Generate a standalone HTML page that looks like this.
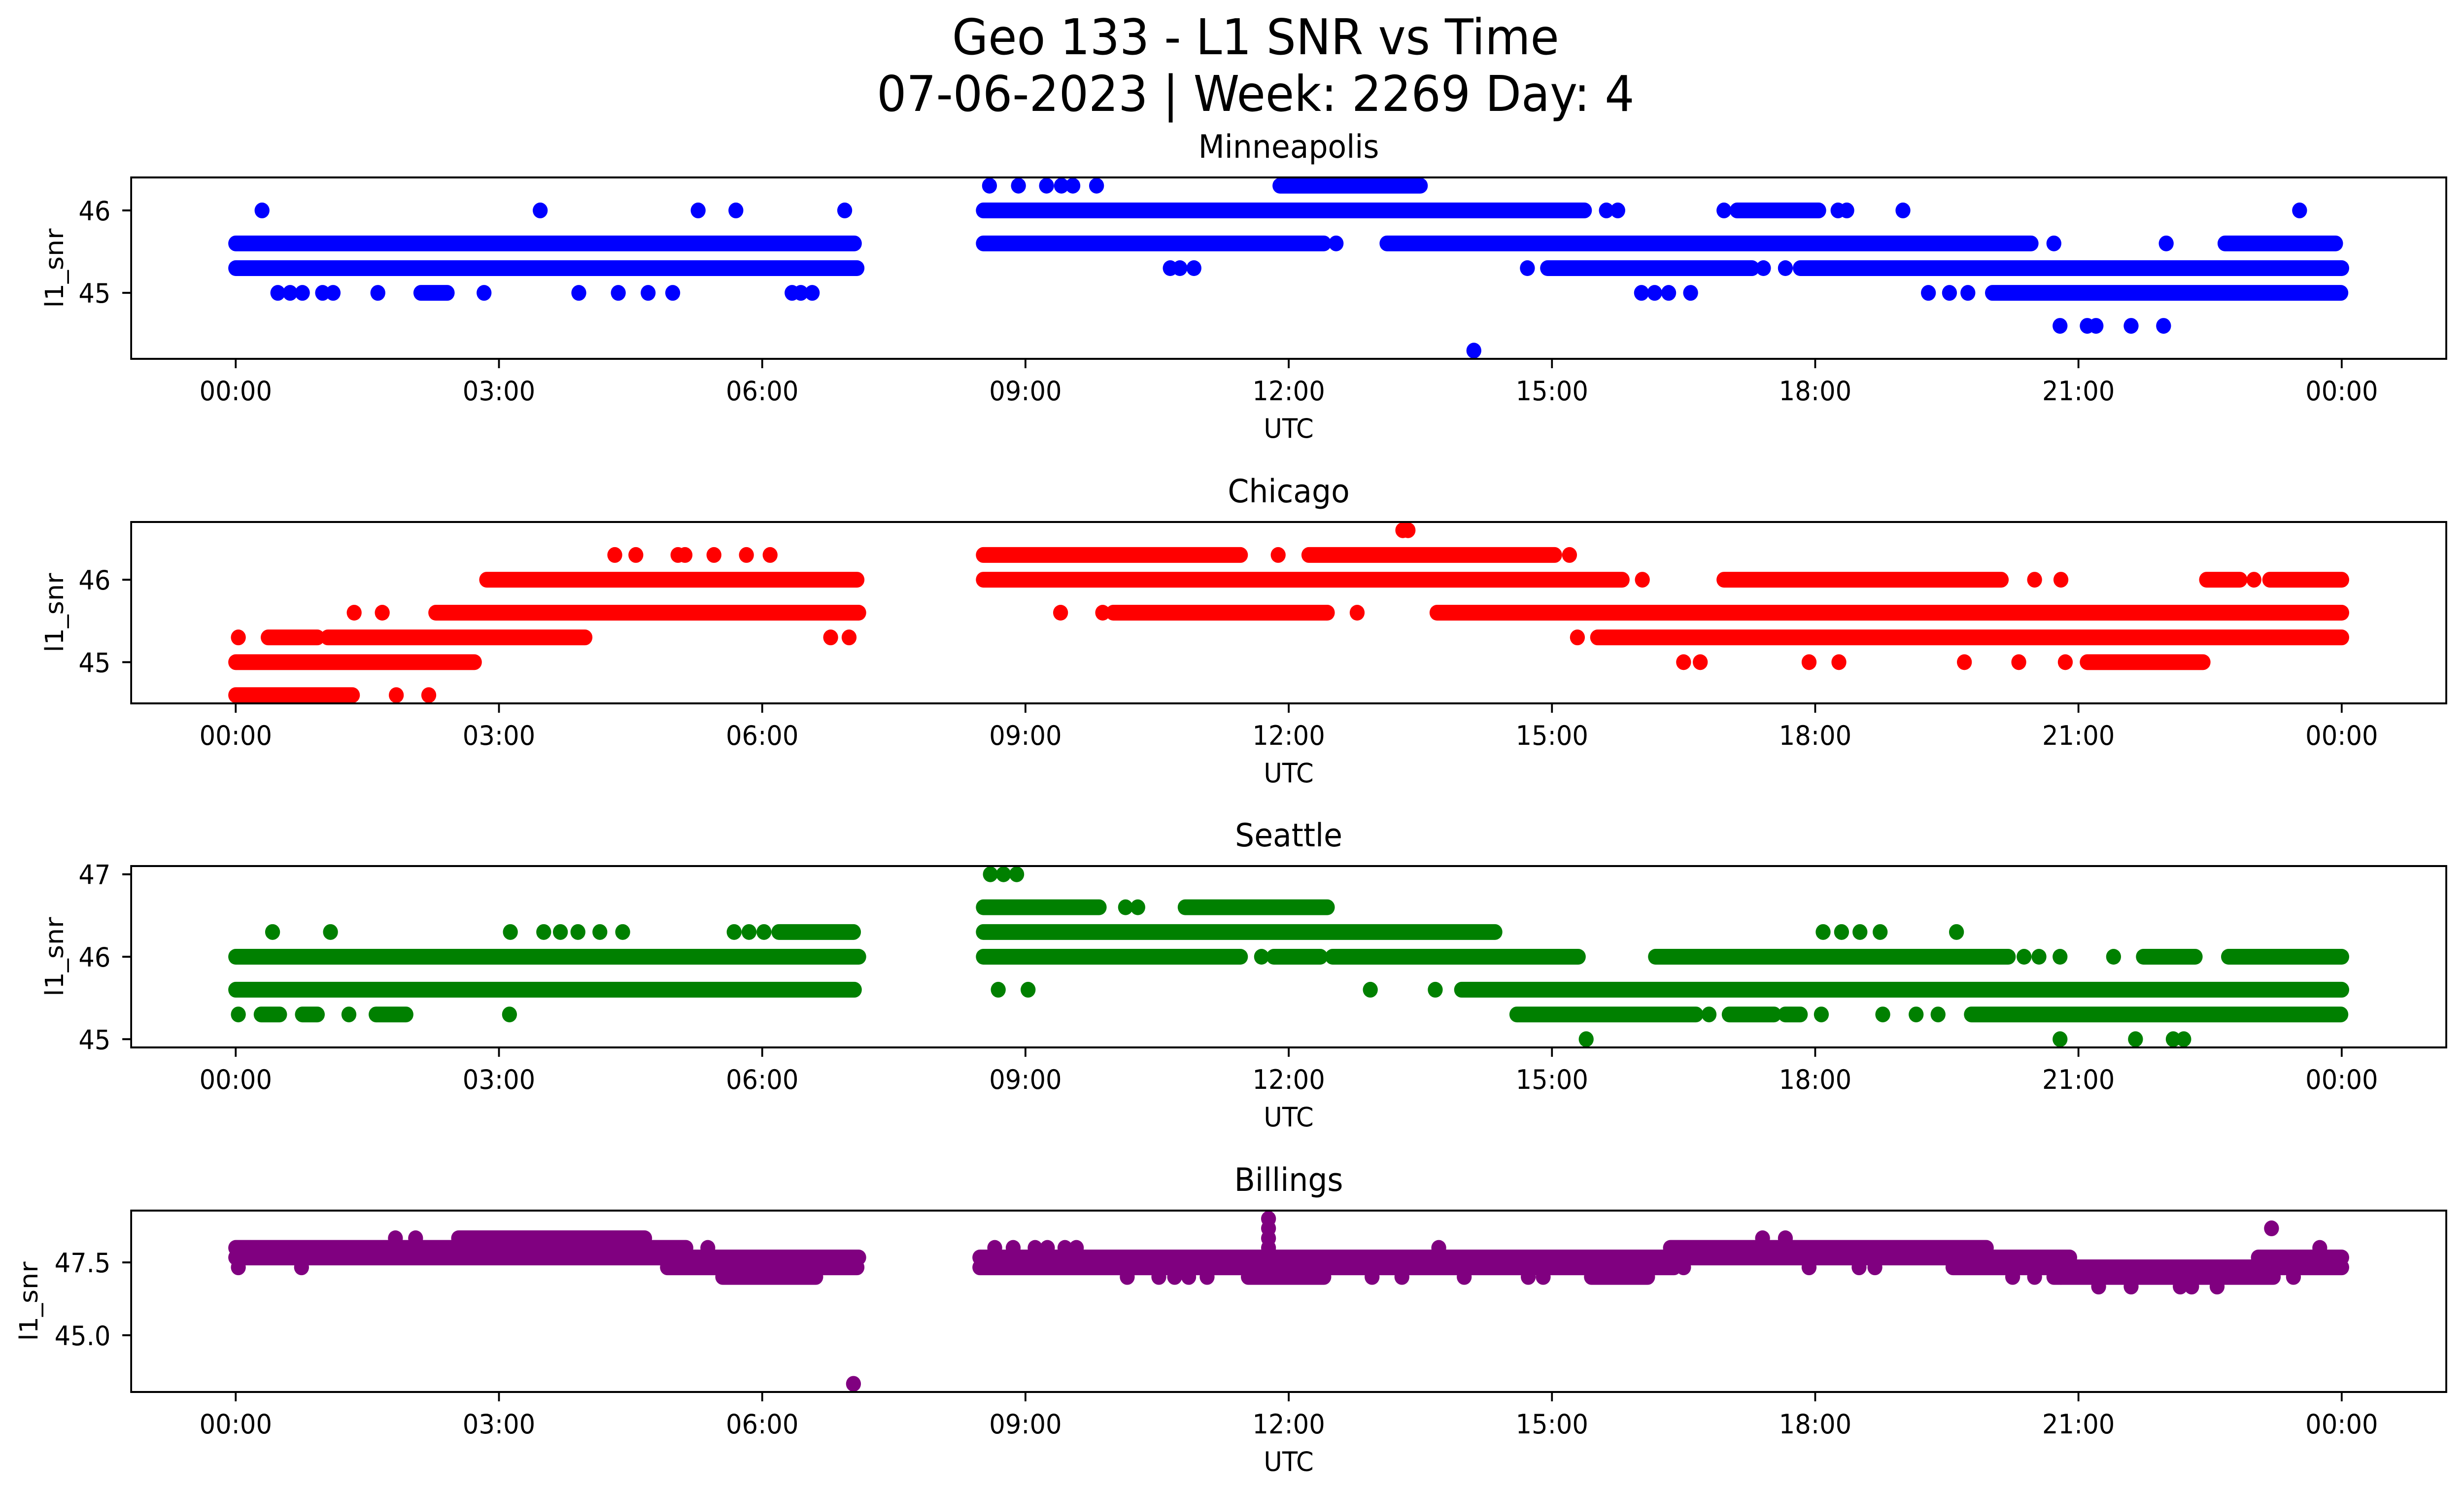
<!DOCTYPE html>
<html><head><meta charset="utf-8"><title>Geo 133 - L1 SNR vs Time</title>
<style>html,body{margin:0;padding:0;background:#fff;overflow:hidden;width:5279px;height:3033px}svg{display:block;width:100vw;height:100vh}text{font-family:"DejaVu Sans","Liberation Sans",sans-serif;fill:#000}</style>
</head><body>
<svg id="fig" xmlns="http://www.w3.org/2000/svg" viewBox="0 0 5279 3033" preserveAspectRatio="none">
<rect width="5279" height="3033" fill="#fff"/>
<text x="2690" y="110" font-size="100" text-anchor="middle">Geo 133 - L1 SNR vs Time</text>
<text x="2690" y="225" font-size="100" text-anchor="middle">07-06-2023 | Week: 2269 Day: 4</text>
</svg>
<script>
// ---- data (hours UTC, SNR) ----
const xTickHours=[0,3,6,9,12,15,18,21,24];
const xTickLabels=["00:00","03:00","06:00","09:00","12:00","15:00","18:00","21:00","00:00"];
const panelNames=["Minneapolis","Chicago","Seattle","Billings"];
// Minneapolis
const minRunStart=[11.9,8.52,17.11,0,8.52,13.12,22.67,0,14.95,17.83,20.02,2.11];
const minRunEnd=[13.5,15.37,18.04,7.05,12.4,20.46,23.93,7.08,17.28,24.0,23.99,2.41];
const minRunVal=[46.3,46.0,46.0,45.6,45.6,45.6,45.6,45.3,45.3,45.3,45.0,45.0];
const minPtTime=[8.59,8.92,9.24,9.41,9.54,9.81,0.30,3.47,5.27,5.70,6.94,15.62,15.75,16.96,18.26,18.36,19.0,23.52,12.54,20.72,22.0,10.65,10.76,10.92,14.72,17.41,17.66,0.48,0.62,0.76,0.99,1.11,1.62,2.83,3.91,4.36,4.70,4.98,6.34,6.44,6.57,16.02,16.17,16.33,16.58,19.29,19.53,19.74,20.79,21.1,21.2,21.6,21.97,14.11];
const minPtVal=[46.3,46.3,46.3,46.3,46.3,46.3,46,46,46,46,46,46,46,46,46,46,46,46,45.6,45.6,45.6,45.3,45.3,45.3,45.3,45.3,45.3,45,45,45,45,45,45,45,45,45,45,45,45,45,45,45,45,45,45,45,45,45,44.6,44.6,44.6,44.6,44.6,44.3];
// Chicago
const chiRunStart=[8.52,12.23,2.86,8.52,16.96,22.46,23.18,2.28,10.0,13.69,0.37,1.05,15.52,0,21.1,0];
const chiRunEnd=[11.45,15.03,7.08,15.8,20.12,22.84,24.0,7.1,12.44,24.0,0.93,3.98,24.0,2.72,22.42,1.33];
const chiRunVal=[46.3,46.3,46.0,46.0,46.0,46.0,46.0,45.6,45.6,45.6,45.3,45.3,45.3,45.0,45.0,44.6];
const chiPtTime=[13.3,13.36,4.32,4.56,5.04,5.12,5.45,5.82,6.09,11.88,15.2,16.03,20.5,20.8,23.0,1.35,1.67,9.4,9.88,12.78,0.03,6.78,6.99,15.29,16.5,16.69,17.93,18.27,19.7,20.32,20.85,1.83,2.2];
const chiPtVal=[46.6,46.6,46.3,46.3,46.3,46.3,46.3,46.3,46.3,46.3,46.3,46,46,46,46,45.6,45.6,45.6,45.6,45.6,45.3,45.3,45.3,45.3,45,45,45,45,45,45,45,44.6,44.6];
// Seattle
const seaRunStart=[8.52,10.82,6.19,8.52,0,8.52,11.83,12.5,16.18,21.74,22.71,0,13.97,14.6,17.02,17.66,19.78,1.6,0.29,0.76];
const seaRunEnd=[9.84,12.44,7.04,14.35,7.1,11.45,12.36,15.3,20.2,22.33,24.0,7.05,24.0,16.64,17.53,17.83,23.99,1.94,0.5,0.93];
const seaRunVal=[46.6,46.6,46.3,46.3,46.0,46.0,46.0,46.0,46.0,46.0,46.0,45.6,45.6,45.3,45.3,45.3,45.3,45.3,45.3,45.3];
const seaPtTime=[8.6,8.75,8.9,10.14,10.28,0.42,1.08,3.13,3.51,3.7,3.9,4.15,4.41,5.68,5.85,6.02,18.09,18.3,18.51,18.74,19.61,11.69,20.38,20.55,20.79,21.4,8.69,9.03,12.93,13.67,0.03,1.29,3.12,16.79,18.07,18.77,19.15,19.4,15.39,20.79,21.65,22.08,22.2];
const seaPtVal=[47,47,47,46.6,46.6,46.3,46.3,46.3,46.3,46.3,46.3,46.3,46.3,46.3,46.3,46.3,46.3,46.3,46.3,46.3,46.3,46,46,46,46,46,45.6,45.6,45.6,45.6,45.3,45.3,45.3,45.3,45.3,45.3,45.3,45.3,45,45,45,45,45];
// Billings
const bilRunStart=[0,16.35,2.54,0,8.48,23.05,4.92,8.48,19.57,5.55,11.54,15.45,20.72];
const bilRunEnd=[5.13,19.95,4.66,7.1,20.9,24.0,7.08,16.39,24.0,6.61,12.4,16.09,23.22];
const bilRunVal=[48.0,48.0,48.33,47.67,47.67,47.67,47.33,47.33,47.33,47.0,47.0,47.0,47.0];
const bilPtTime=[11.77,11.77,23.2,1.82,2.05,11.77,17.4,17.66,5.38,8.65,8.86,9.11,9.25,9.45,9.58,11.77,13.71,23.75,0.03,0.75,16.5,17.93,18.5,18.68,10.16,10.52,10.7,10.86,11.07,12.95,13.29,14.0,14.73,14.9,20.25,20.5,20.8,23.45,21.23,21.6,22.16,22.29,22.58,7.04];
const bilPtVal=[49.0,48.67,48.67,48.33,48.33,48.33,48.33,48.33,48,48,48,48,48,48,48,48,48,48,47.33,47.33,47.33,47.33,47.33,47.33,47,47,47,47,47,47,47,47,47,47,47,47,47,47,46.67,46.67,46.67,46.67,46.67,43.33];
// y ticks
const minYTicks=[45,46], chiYTicks=[45,46], seaYTicks=[45,46,47], bilYTicks=[45.0,47.5];
const minYLabels=["45","46"], chiYLabels=["45","46"], seaYLabels=["45","46","47"], bilYLabels=["45.0","47.5"];

const NS="http://www.w3.org/2000/svg";
const svg=document.getElementById('fig');
const AX_L=281, AX_R=5241, AX_H=368, X0=505, PXH=188.0;
const panelTops=[360,1059,1757,2456];
const yLims=[[44.2,46.4],[44.5,46.7],[44.9,47.1],[43.05,49.28]];
const colors=["#0000ff","#ff0000","#008000","#800080"];
const slugs=["minneapolis","chicago","seattle","billings"];
const runsS=[minRunStart,chiRunStart,seaRunStart,bilRunStart];
const runsE=[minRunEnd,chiRunEnd,seaRunEnd,bilRunEnd];
const runsV=[minRunVal,chiRunVal,seaRunVal,bilRunVal];
const ptsT=[minPtTime,chiPtTime,seaPtTime,bilPtTime];
const ptsV=[minPtVal,chiPtVal,seaPtVal,bilPtVal];
const yTicks=[minYTicks,chiYTicks,seaYTicks,bilYTicks];
const yLabels=[minYLabels,chiYLabels,seaYLabels,bilYLabels];
const ylabelX=[135,135,135,80];
const R=16;
function el(tag,attrs,parent){const e=document.createElementNS(NS,tag);for(const k in attrs)e.setAttribute(k,attrs[k]);(parent||svg).appendChild(e);return e;}
function xScale(h){return X0+h*PXH;}

for(let p=0;p<4;p++){
  const top=panelTops[p], bot=top+AX_H, lo=yLims[p][0], hi=yLims[p][1];
  const yScale=v=>top+(hi-v)/(hi-lo)*AX_H;
  const g=el('g',{});
  
  
  const clip=el('clipPath',{id:'clip'+p},g);
  el('rect',{x:AX_L,y:top,width:AX_R-AX_L,height:AX_H},clip);
  const marks=el('g',{'clip-path':'url(#clip'+p+')'},g);
  
  
  for(let i=0;i<runsS[p].length;i++){
    const ln=el('line',{x1:xScale(runsS[p][i]),x2:xScale(runsE[p][i]),y1:yScale(runsV[p][i]),y2:yScale(runsV[p][i]),stroke:colors[p],'stroke-width':2*R,'stroke-linecap':'round'},marks);
    
    
  }
  for(let i=0;i<ptsT[p].length;i++){
    const c=el('circle',{cx:xScale(ptsT[p][i]),cy:yScale(ptsV[p][i]),r:R,fill:colors[p]},marks);
    
    
  }
  const frame=el('rect',{x:AX_L,y:top,width:AX_R-AX_L,height:AX_H,fill:'none',stroke:'#000','stroke-width':4},g);
  
  
  for(let i=0;i<xTickHours.length;i++){
    const x=xScale(xTickHours[i]);
    const t=el('line',{x1:x,x2:x,y1:bot,y2:bot+19,stroke:'#000','stroke-width':4},g);
    
    
    const lb=el('text',{x:x,y:bot+84,'font-size':54,'text-anchor':'middle'},g);
    lb.textContent=xTickLabels[i];
    
    
  }
  for(let i=0;i<yTicks[p].length;i++){
    const y=yScale(yTicks[p][i]);
    const t=el('line',{x1:AX_L-19,x2:AX_L,y1:y,y2:y,stroke:'#000','stroke-width':4},g);
    
    
    const lb=el('text',{x:237,y:y+20,'font-size':54,'text-anchor':'end'},g);
    lb.textContent=yLabels[p][i];
    
    
  }
  const tt=el('text',{x:(AX_L+AX_R)/2,y:top-40,'font-size':65,'text-anchor':'middle'},g);
  tt.textContent=panelNames[p];
  
  
  const xl=el('text',{x:(AX_L+AX_R)/2,y:bot+160,'font-size':54,'text-anchor':'middle'},g);
  xl.textContent='UTC';
  
  
  const cy=top+AX_H/2;
  const yl=el('text',{x:ylabelX[p],y:cy,'font-size':54,'text-anchor':'middle',transform:'rotate(-90 '+ylabelX[p]+' '+cy+')'},g);
  yl.textContent='l1_snr';
  
  
}
</script>
</body></html>
